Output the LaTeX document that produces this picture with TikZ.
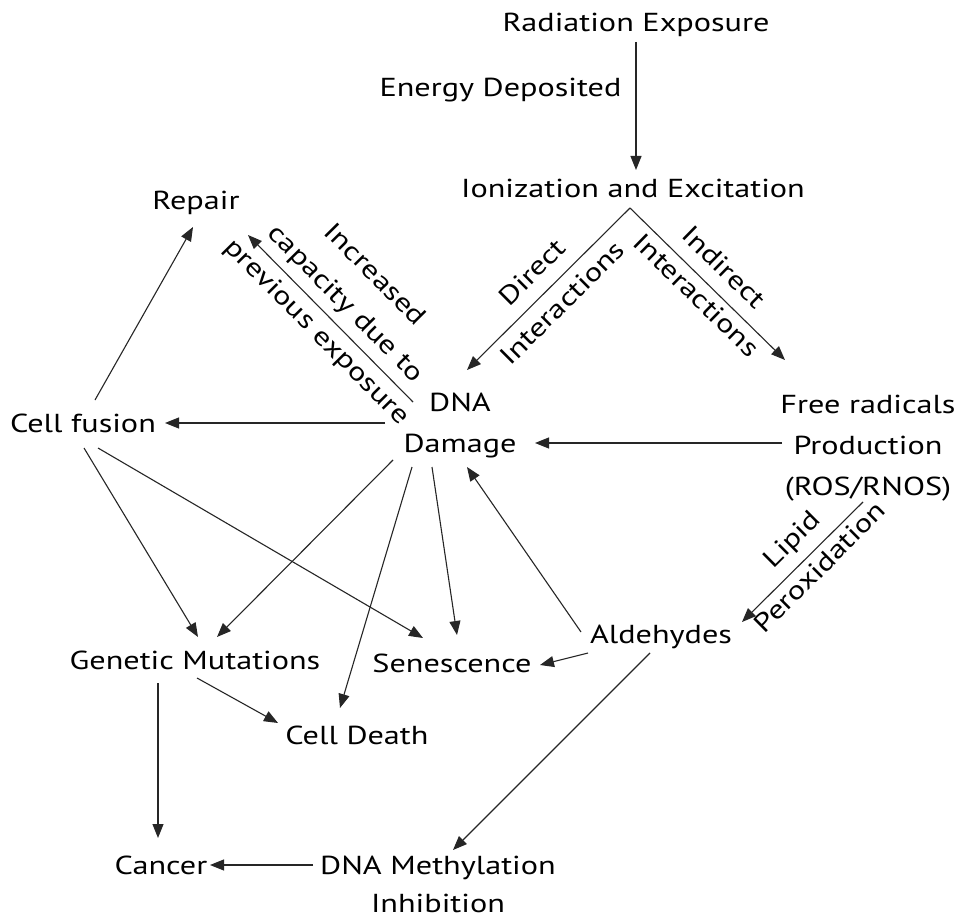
\documentclass[tikz,border=0pt]{standalone}
\usepackage{fontspec}
\setmainfont{PT Sans}[FakeStretch=1.24]
\usetikzlibrary{arrows.meta,calc}
\begin{document}
\begin{tikzpicture}[x=1pt,y=-1pt,
  txt/.style={font=\fontsize{26}{41}\selectfont, inner sep=0pt, align=center},
  lab/.style={txt, sloped, text height=19pt, text depth=6pt},
  arr/.style={-{Triangle[length=14pt,width=11pt]}, line width=1.1pt, draw=black!85}]
\useasboundingbox[fill=white] (0,0) rectangle (959,920);
% nodes
\node[txt] (rad) at (636,25) {Radiation Exposure};
\node[txt] (ion) at (633,188) {Ionization and Excitation};
\node[txt] (repair) at (196,203) {Repair};
\node[txt] (dna) at (460,426) {DNA\\Damage};
\node[txt] (fusion) at (83,423) {Cell fusion};
\node[txt] (free) at (868,448) {Free radicals\\Production\\(ROS/RNOS)};
\node[txt] (ald) at (661,637) {Aldehydes};
\node[txt] (gm) at (195,660) {Genetic Mutations};
\node[txt] (sen) at (452,663) {Senescence};
\node[txt] (death) at (357,735) {Cell Death};
\node[txt] (cancer) at (161,865) {Cancer};
\node[txt, font=\fontsize{26}{38}\selectfont] (meth) at (438,884) {DNA Methylation\\Inhibition};
% connectors
\draw[arr] ($(rad)+(0,17)$) -- ($(ion)+(3,-18)$)
  node[txt, pos=0.375, left=14pt] (energy) {Energy Deposited};
\draw[arr] ($(ion)+(-3,20)$) -- ($(dna)+(7,-56)$)
  node[lab, midway, yshift=21pt] (direct1) {Direct}
  node[lab, midway, yshift=-22pt] (direct2) {Interactions};
\draw[arr] ($(ion)+(-3,20)$) -- ($(free)+(-83,-88)$)
  node[lab, midway, yshift=21pt] (indirect1) {Indirect}
  node[lab, midway, yshift=-18pt] (indirect2) {Interactions};
\draw[arr] ($(dna)+(-47,-24)$) -- ($(repair)+(52,32)$)
  node[lab, midway, yshift=61pt] (incr1) {Increased}
  node[lab, midway, yshift=20pt] (incr2) {capacity due to}
  node[lab, midway, yshift=-20pt] (incr3) {previous exposure};
\draw[arr] ($(free)+(-86,-5)$) -- ($(dna)+(75,17)$);
\draw[arr] ($(dna)+(-75,-3)$) -- ($(fusion)+(82,0)$);
\draw[arr] ($(fusion)+(12,-23)$) -- ($(repair)+(-3,24)$);
\draw[arr] ($(fusion)+(1,25)$) -- ($(gm)+(3,-23)$);
\draw[arr] ($(fusion)+(15,25)$) -- ($(sen)+(-29,-25)$);
\draw[arr] ($(dna)+(-67,34)$) -- ($(gm)+(22,-23)$);
\draw[arr] ($(dna)+(-48,41)$) -- ($(death)+(-17,-27)$);
\draw[arr] ($(dna)+(-28,41)$) -- ($(sen)+(5,-28)$);
\draw[arr] ($(ald)+(-80,-5)$) -- ($(dna)+(7,41)$);
\draw[arr] ($(free)+(-5,54)$) -- ($(ald)+(81,-15)$)
  node[lab, pos=0.45, yshift=22pt] (lipid1) {Lipid}
  node[lab, pos=0.45, yshift=-18pt] (lipid2) {Peroxidation};
\draw[arr] ($(ald)+(-73,16)$) -- ($(sen)+(88,2)$);
\draw[arr] ($(ald)+(-11,16)$) -- ($(meth)+(15,-34)$);
\draw[arr] ($(gm)+(2,18)$) -- ($(death)+(-79,-12)$);
\draw[arr] ($(gm)+(-37,23)$) -- ($(cancer)+(-3,-27)$);
\draw[arr] ($(meth)+(-125,-19)$) -- ($(cancer)+(49,0)$);
\end{tikzpicture}
\end{document}
